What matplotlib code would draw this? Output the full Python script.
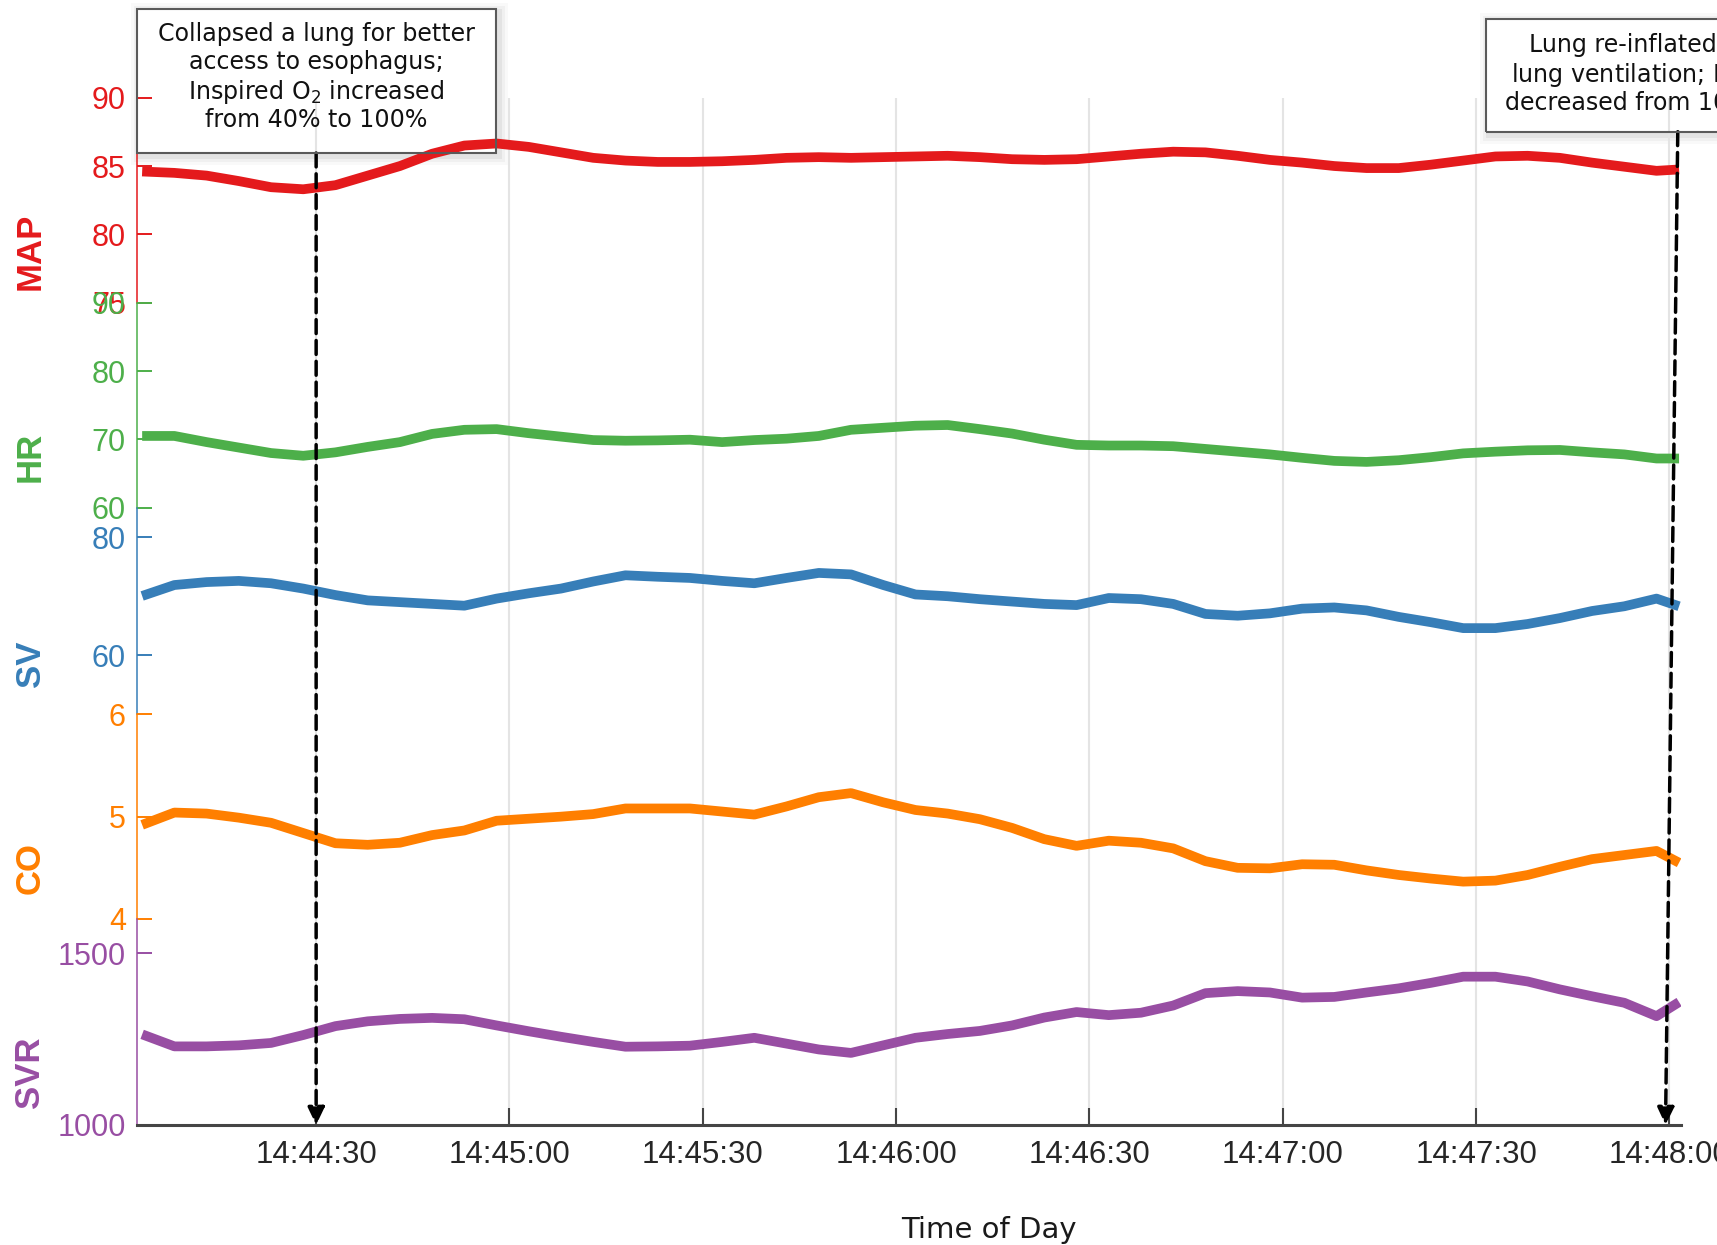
import matplotlib
matplotlib.use("Agg")
import matplotlib.pyplot as plt
import matplotlib.dates as mdates
from matplotlib.patches import Rectangle
import pandas as pd

# ---------------------------------------------------------------- data
DAY = "2000-01-01 "
times = [
    "14:44:03", "14:44:08", "14:44:13", "14:44:18", "14:44:23", "14:44:28",
    "14:44:33", "14:44:38", "14:44:43", "14:44:48", "14:44:53", "14:44:58",
    "14:45:03", "14:45:08", "14:45:13", "14:45:18", "14:45:23", "14:45:28",
    "14:45:33", "14:45:38", "14:45:43", "14:45:48", "14:45:53", "14:45:58",
    "14:46:03", "14:46:08", "14:46:13", "14:46:18", "14:46:23", "14:46:28",
    "14:46:33", "14:46:38", "14:46:43", "14:46:48", "14:46:53", "14:46:58",
    "14:47:03", "14:47:08", "14:47:13", "14:47:18", "14:47:23", "14:47:28",
    "14:47:33", "14:47:38", "14:47:43", "14:47:48", "14:47:53", "14:47:58",
    "14:48:01.5",
]

map_vals = [84.6, 84.5, 84.3, 83.9, 83.45, 83.3, 83.6, 84.3, 85.0, 85.9, 86.5, 86.65,
            86.4, 86.0, 85.6, 85.4, 85.3, 85.3, 85.35, 85.45, 85.6, 85.65, 85.6, 85.65,
            85.7, 85.75, 85.65, 85.5, 85.45, 85.5, 85.7, 85.9, 86.05, 86.0, 85.75, 85.45,
            85.25, 85.0, 84.85, 84.85, 85.1, 85.4, 85.7, 85.75, 85.6, 85.25, 84.95, 84.65,
            84.75]

hr_vals = [70.5, 70.5, 69.6, 68.8, 68.0, 67.6, 68.1, 68.9, 69.6, 70.8, 71.4, 71.5,
           70.9, 70.4, 69.9, 69.8, 69.85, 69.95, 69.6, 69.9, 70.1, 70.5, 71.4, 71.7,
           72.0, 72.1, 71.5, 70.85, 69.95, 69.2, 69.1, 69.1, 69.0, 68.6, 68.2, 67.8,
           67.3, 66.85, 66.7, 66.95, 67.4, 67.95, 68.2, 68.4, 68.45, 68.1, 67.8, 67.2,
           67.2]

sv_vals = [70.05, 71.9, 72.4, 72.6, 72.2, 71.3, 70.2, 69.3, 69.0, 68.7, 68.4, 69.6,
           70.5, 71.3, 72.5, 73.55, 73.3, 73.1, 72.6, 72.2, 73.1, 73.95, 73.7, 71.9,
           70.3, 70.0, 69.5, 69.1, 68.7, 68.5, 69.7, 69.5, 68.7, 67.0, 66.7, 67.1,
           67.9, 68.1, 67.6, 66.5, 65.6, 64.6, 64.6, 65.3, 66.3, 67.5, 68.3, 69.6,
           68.3]

co_vals = [4.92, 5.04, 5.03, 4.99, 4.94, 4.84, 4.74, 4.725, 4.745, 4.82, 4.865, 4.96,
           4.98, 5.0, 5.025, 5.08, 5.08, 5.08, 5.05, 5.02, 5.10, 5.19, 5.23, 5.14,
           5.065, 5.03, 4.975, 4.89, 4.78, 4.715, 4.765, 4.745, 4.69, 4.565, 4.50, 4.495,
           4.535, 4.53, 4.475, 4.43, 4.395, 4.365, 4.375, 4.43, 4.51, 4.585, 4.625, 4.665,
           4.55]

svr_vals = [1264, 1229, 1229, 1232, 1239, 1262, 1288, 1302, 1309, 1312, 1308, 1290,
            1273, 1257, 1242, 1228, 1229, 1231, 1242, 1254, 1237, 1220, 1210, 1232,
            1254, 1265, 1274, 1290, 1313, 1329, 1320, 1327, 1348, 1384, 1390, 1386,
            1371, 1373, 1386, 1398, 1414, 1432, 1432, 1418, 1395, 1375, 1356, 1317,
            1358]

labels = ["MAP", "HR", "SV", "CO", "SVR"]
ylims = [(75, 90), (60, 90), (50, 85), (4, 6), (1000, 1600)]
yticks = [[75, 80, 85, 90], [60, 70, 80, 90], [60, 80], [4, 5, 6], [1000, 1500]]
colors = ["#E41A1C", "#4DAF4A", "#377EB8", "#FF7F00", "#984EA3"]

x_range = ("14:44:02.2", "14:48:01.8")

event1_time = "14:44:30"
event1_text = ["Collapsed a lung for better", "access to esophagus;",
               "Inspired O$_2$ increased", "from 40% to 100%"]
event2_tip, event2_top = "14:47:59.4", "14:48:01.3"
event2_text = ["Lung re-inflated; two-", "lung ventilation; Inspired O$_2$",
               "decreased from 100% to 40%"]

# ---------------------------------------------------------------- style
plt.rcParams["font.family"] = ["Liberation Sans", "DejaVu Sans"]
plt.rcParams["mathtext.fontset"] = "dejavusans"
plt.rcParams["mathtext.default"] = "regular"

W, H = 1717, 1245
fig = plt.figure(figsize=(W / 100, H / 100), dpi=100)
fig.patch.set_facecolor("white")


def stamp(s):
    return pd.to_datetime(DAY + s, format="ISO8601")


t = pd.to_datetime([DAY + s for s in times], format="ISO8601")
series = [map_vals, hr_vals, sv_vals, co_vals, svr_vals]

# panel layout (pixels from top of the figure)
left_px, right_px = 137, 1681
edges = [97.7, 302.7, 507.7, 714.3, 919.0, 1125.0]
label_y = [251.7, 457, 664, 868, 1072]


def fx(px):
    return px / W


def fy(py):
    return 1 - py / H


axes = []
for i, (name, vals, yl, yt, c) in enumerate(zip(labels, series, ylims, yticks, colors)):
    top, bot = edges[i], edges[i + 1]
    ax = fig.add_axes([fx(left_px), fy(bot), fx(right_px - left_px), (bot - top) / H],
                      sharex=axes[0] if axes else None)
    ax.set_facecolor("none")
    ax.plot(t, vals, color=c, lw=7, solid_joinstyle="round", solid_capstyle="butt", zorder=3)
    ax.set_ylim(*yl)
    ax.set_yticks(yt)
    for s in ("top", "right", "bottom"):
        ax.spines[s].set_visible(False)
    ax.spines["left"].set_color(c)
    ax.spines["left"].set_linewidth(1.1)
    ax.tick_params(axis="y", direction="in", length=10.8, width=1.4, color=c,
                   labelcolor=c, labelsize=22, pad=8)
    ax.grid(axis="x", color="#e4e4e4", lw=1.5)
    ax.set_axisbelow(True)
    fig.text(fx(30), fy(label_y[i]), name, rotation=90, ha="center", va="center",
             color=c, fontsize=25, fontweight="bold")
    axes.append(ax)

for ax in axes[:-1]:
    ax.tick_params(axis="x", which="both", bottom=False, labelbottom=False)

axb = axes[-1]
axb.spines["bottom"].set_visible(True)
axb.spines["bottom"].set_color("#454545")
axb.spines["bottom"].set_linewidth(2.2)
axb.xaxis.set_major_locator(mdates.SecondLocator(bysecond=[0, 30]))
axb.xaxis.set_major_formatter(mdates.DateFormatter("%H:%M:%S"))
axb.tick_params(axis="x", direction="in", length=12, width=1.5, color="#454545",
                labelcolor="#262626", labelsize=22.5, pad=11)
axb.set_xlim(stamp(x_range[0]), stamp(x_range[1]))

fig.text(fx(989), fy(1237.5), "Time of Day", ha="center", va="baseline",
         family="DejaVu Sans", fontsize=21, color="#1a1a1a")


# ---------------------------------------------------------------- event boxes
def event_box(x0, x1, y0, y1):
    # soft drop shadow
    for d, a in [(9, 0.025), (6, 0.035), (3, 0.05)]:
        fig.patches.append(Rectangle((fx(x0 - d + 3), fy(y1 + d + 3)),
                                     fx(x1 - x0 + 2 * d), (y1 - y0 + 2 * d) / H,
                                     transform=fig.transFigure, facecolor="black",
                                     edgecolor="none", alpha=a, zorder=-3))
    fig.patches.append(Rectangle((fx(x0), fy(y1)), fx(x1 - x0), (y1 - y0) / H,
                                 transform=fig.transFigure, facecolor="white",
                                 edgecolor="none", zorder=-2))
    fig.patches.append(Rectangle((fx(x0), fy(y1)), fx(x1 - x0), (y1 - y0) / H,
                                 transform=fig.transFigure, facecolor="none",
                                 edgecolor="#5a5a5a", lw=1.5, zorder=6))


event_box(137, 496, 9.3, 153)
for line, base in zip(event1_text, [40.7, 69.5, 99, 126.7]):
    fig.text(fx(316.5), fy(base), line, ha="center", va="baseline",
             family="DejaVu Sans", fontsize=17.1, color="#111111", zorder=7)

event_box(1485.7, 1855, 19.3, 131.7)
for line, base, x0 in zip(event2_text, [52.3, 81.7, 110], [1529.3, 1511, 1505.3]):
    fig.text(fx(x0), fy(base), line, ha="left", va="baseline",
             family="DejaVu Sans", fontsize=17.1, color="#111111", zorder=7)

# ---------------------------------------------------------------- event arrows
arrow = dict(arrowstyle="-|>,head_length=1.05,head_width=0.5", color="black", lw=2.5,
             linestyle=(0, (4, 2)), shrinkA=0, shrinkB=0, mutation_scale=10)
axb.annotate("", xy=(stamp(event1_time), 1000), xycoords="data",
             xytext=(stamp(event1_time), fy(153)),
             textcoords=("data", "figure fraction"), arrowprops=arrow,
             annotation_clip=False, zorder=8)
axb.annotate("", xy=(stamp(event2_tip), 1000), xycoords="data",
             xytext=(stamp(event2_top), fy(131.7)),
             textcoords=("data", "figure fraction"), arrowprops=arrow,
             annotation_clip=False, zorder=8)

fig.savefig("out.png", dpi=100)
